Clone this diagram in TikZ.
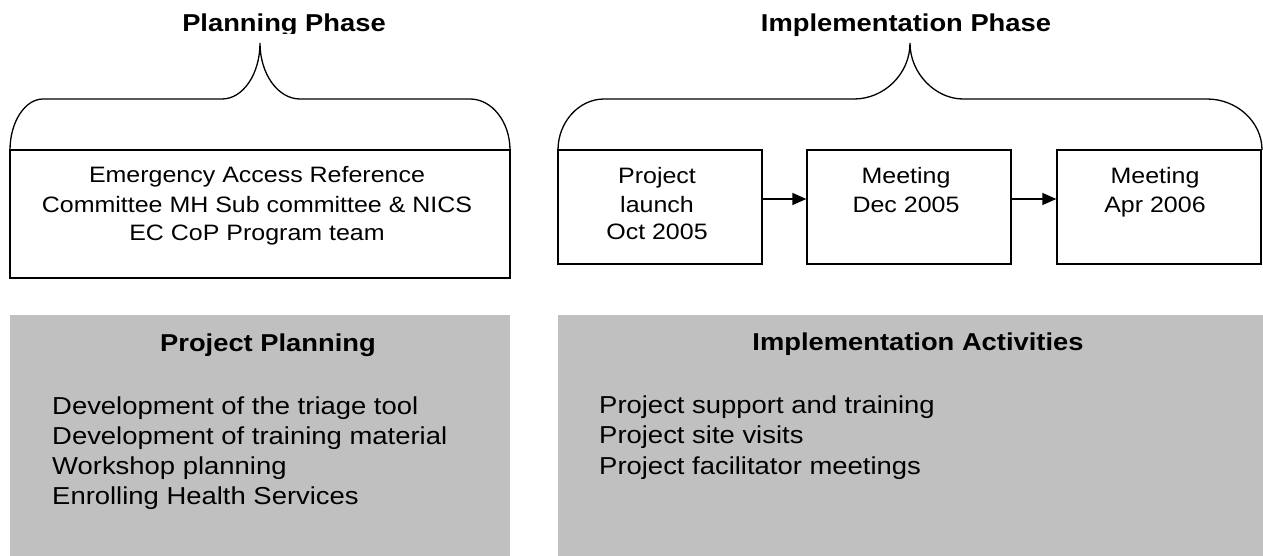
\documentclass[tikz,border=0pt]{standalone}
\usepackage{fontspec}
\setmainfont[FakeStretch=1.12]{Liberation Sans}
\usetikzlibrary{arrows.meta}
\definecolor{panelgray}{RGB}{192,192,192}
\tikzset{
  outline/.style={draw, line width=1.3pt, inner sep=0pt},
  panel/.style={fill=panelgray, inner sep=0pt, outer sep=0pt},
  heading/.style={font=\fontsize{24.4}{29}\selectfont\bfseries, anchor=base, inner sep=0pt},
  boxtext/.style={font=\fontsize{22.3}{28.5}\selectfont, anchor=base, inner sep=0pt},
  listtext/.style={font=\fontsize{24.5}{30.3}\selectfont, anchor=base west, inner sep=0pt},
  brace/.style={line width=1.3pt},
  flow/.style={line width=1.3pt, -{Triangle[length=14pt,width=12pt]}},
}
\begin{document}
\begin{tikzpicture}[x=1pt,y=-1pt]
\useasboundingbox (0,0) rectangle (1263,556);

% phase titles (the left one is cut at its baseline)
\begin{scope}
  \clip (0,0) rectangle (560,33.5);
  \node[heading] (tplan) at (284,32) {Planning Phase};
\end{scope}
\node[heading] (timpl) at (906,32) {Implementation Phase};

% braces
\draw[brace] (10,150) .. controls (10,122) and (25,99) .. (43,99) -- (222,99)
  .. controls (243,99) and (260,74) .. (260,43)
  .. controls (260,74) and (278,99) .. (300,99) -- (470,99)
  .. controls (492,99) and (510,122) .. (510,150);
\draw[brace] (558,150) .. controls (558,122) and (579,99) .. (604,99) -- (854,99)
  .. controls (884,99) and (910,74) .. (910,43)
  .. controls (910,74) and (936,99) .. (963,99) -- (1207,99)
  .. controls (1237,99) and (1262,122) .. (1262,150);

% planning committee box
\node[outline, minimum width=500pt, minimum height=128pt] (committee) at (260,214) {};
\node[boxtext] (c1) at (257,183) {Emergency Access Reference};
\node[boxtext] (c2) at (257,212) {Committee MH Sub committee \& NICS};
\node[boxtext] (c3) at (257,240.5) {EC CoP Program team};

% implementation milestones
\node[outline, minimum width=204pt, minimum height=114pt] (m1) at (660,207) {};
\node[outline, minimum width=204pt, minimum height=114pt] (m2) at (909,207) {};
\node[outline, minimum width=204pt, minimum height=114pt] (m3) at (1159,207) {};
\node[boxtext] (m1a) at (657,184) {Project};
\node[boxtext] (m1b) at (657,212) {launch};
\node[boxtext] (m1c) at (657,240) {Oct 2005};
\node[boxtext] (m2a) at (906,184) {Meeting};
\node[boxtext] (m2b) at (906,212) {Dec 2005};
\node[boxtext] (m3a) at (1155,184) {Meeting};
\node[boxtext] (m3b) at (1155,212) {Apr 2006};
\draw[flow] ([yshift=8pt]m1.east) -- ([yshift=8pt]m2.west);
\draw[flow] ([yshift=8pt]m2.east) -- ([yshift=8pt]m3.west);

% activity panels
\node[panel, minimum width=500pt, minimum height=241pt] (pplan) at (260,435.5) {};
\node[panel, minimum width=705pt, minimum height=241pt] (pimpl) at (910.5,435.5) {};

\node[heading] (hplan) at (268,351) {Project Planning};
\node[listtext] (l1) at (52,414) {Development of the triage tool};
\node[listtext] (l2) at (52,444.3) {Development of training material};
\node[listtext] (l3) at (52,474.6) {Workshop planning};
\node[listtext] (l4) at (52,504.9) {Enrolling Health Services};

\node[heading] (himpl) at (918,350) {Implementation Activities};
\node[listtext] (r1) at (599,413) {Project support and training};
\node[listtext] (r2) at (599,443.5) {Project site visits};
\node[listtext] (r3) at (599,474) {Project facilitator meetings};
\end{tikzpicture}
\end{document}
